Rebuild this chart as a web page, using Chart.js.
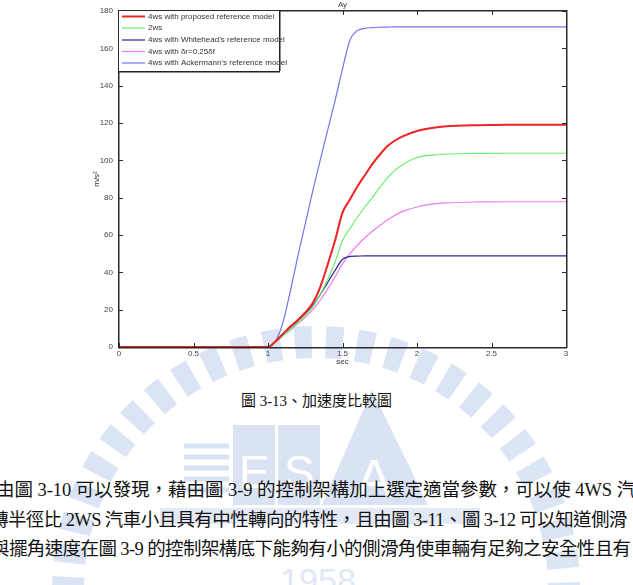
<!DOCTYPE html>
<html>
<head>
<meta charset="utf-8">
<script src="https://cdn.jsdelivr.net/npm/chart.js@4.4.1/dist/chart.umd.min.js"></script>
<style>
    body { margin: 0; width: 633px; height: 585px; overflow: hidden; background: #fff; position: relative; }
    #mark { position: absolute; left: 0; top: 0; }
    #wrap { position: absolute; left: 0; top: 0; width: 633px; height: 372px; }
    .txt { position: absolute; white-space: nowrap; color: #111;
           font-family: "Liberation Serif", "Noto Sans CJK TC", serif; }
    #caption { left: 0; width: 633px; text-align: center; top: 389px; font-size: 15px; }
    .line { font-size: 18.5px; }
</style>
</head>
<body>
<svg id="mark" width="633" height="585">
    <g opacity="0.5">
        <circle cx="316" cy="590" r="248" fill="none" stroke="#b9cbea" stroke-width="32" stroke-dasharray="17 14"/>
        <g stroke="#b7c8e8" stroke-width="5">
            <line x1="184" y1="446" x2="229" y2="446"/><line x1="184" y1="457" x2="229" y2="457"/>
            <line x1="184" y1="468" x2="229" y2="468"/><line x1="184" y1="479" x2="229" y2="479"/>
            <line x1="184" y1="490" x2="229" y2="490"/>
        </g>
        <rect x="233" y="425" width="42" height="80" fill="#b7c8e8"/>
        <rect x="278" y="425" width="42" height="80" fill="#b7c8e8"/>
        <text x="254" y="488" font-size="46" font-family="Liberation Sans" fill="#fff" text-anchor="middle">E</text>
        <text x="299" y="488" font-size="46" font-family="Liberation Sans" fill="#fff" text-anchor="middle">S</text>
        <polygon points="322,505 372,390 428,505" fill="#b7c8e8"/>
        <text x="374" y="497" font-size="54" font-family="Liberation Sans" fill="#fff" text-anchor="middle">A</text>
        <rect x="160" y="508" width="320" height="16" fill="#c9d6ef"/>
        <text x="318" y="592" font-size="34" font-family="Liberation Sans" fill="#c3d1ec" text-anchor="middle">1958</text>
    </g>
</svg>
<div id="wrap"><canvas id="chart"></canvas></div>
<div class="txt" id="caption">圖 3-13、加速度比較圖</div>
<div class="txt line" style="top:475px;left:-4px;letter-spacing:-0.05px">由圖 3-10 可以發現，藉由圖 3-9 的控制架構加上選定適當參數，可以使 4WS 汽</div>
<div class="txt line" style="top:505px;left:-10px;letter-spacing:-0.6px">轉半徑比 2WS 汽車小且具有中性轉向的特性，且由圖 3-11、圖 3-12 可以知道側滑</div>
<div class="txt line" style="top:534px;left:-9px;letter-spacing:-0.6px">與擺角速度在圖 3-9 的控制架構底下能夠有小的側滑角使車輛有足夠之安全性且有</div>
<script>
const times = [0, 1.0, 1.05, 1.1, 1.15, 1.2, 1.25, 1.3, 1.35, 1.4, 1.45, 1.5, 1.55, 1.6, 1.65, 1.7, 1.75, 1.8, 1.85, 1.9, 2.0, 2.1, 2.2, 2.4, 2.6, 3.0];

const proposed   = [0, 0, 3, 7, 11, 14.5, 18.5, 23.5, 32, 44, 57, 72, 79, 86, 92, 98, 103, 107.5, 110.5, 112.7, 115.7, 117.3, 118.2, 118.8, 119, 119];
const twoWs      = [0, 0, 2.5, 6, 9.5, 13, 17, 21.5, 28, 36, 45.5, 57, 63.5, 69.5, 75, 80, 85.5, 90.5, 94.5, 97.5, 101.5, 102.8, 103.4, 103.7, 103.8, 103.8];
const whitehead  = [0, 0, 3, 7, 10.5, 14, 18, 22, 28, 34.5, 41, 47, 48.5, 48.7, 48.8, 48.8, 48.8, 48.8, 48.8, 48.8, 48.8, 48.8, 48.8, 48.8, 48.8, 48.8];
const quarterRatio = [0, 0, 2.5, 6, 9, 12.5, 16, 20, 25, 31, 37.5, 44.5, 50, 54.5, 58.5, 62, 65, 68, 70.5, 72.5, 75, 76.5, 77.2, 77.7, 77.8, 77.8];
const ackermann  = [0, 0, 3, 13, 30, 48.5, 66, 83.5, 100, 116, 132, 149, 164.5, 169.5, 170.7, 171.1, 171.3, 171.4, 171.5, 171.5, 171.5, 171.5, 171.5, 171.5, 171.5, 171.5];

const seriesLabels = [
    '4ws with proposed reference model',
    '2ws',
    '4ws with Whitehead\u2019s reference model',
    '4ws with \u03b4r=0.25\u03b4f',
    '4ws with Ackermann\u2019s reference model'
];
const seriesColors = ['#ec2424', '#6ced6c', '#262696', '#ef7cef', '#7474ee'];
const seriesWidths = [2, 1.2, 1.2, 1.2, 1.2];
const seriesValues = [proposed, twoWs, whitehead, quarterRatio, ackermann];

const xTicks = [0, 0.5, 1, 1.5, 2, 2.5, 3];
const yTicks = [0, 20, 40, 60, 80, 100, 120, 140, 160, 180];

const tickFont = { family: 'Liberation Sans', size: 8 };

const datasets = seriesValues.map((vals, i) => ({
    label: seriesLabels[i],
    data: vals.map((v, j) => ({ x: times[j], y: v })),
    borderColor: seriesColors[i],
    borderWidth: seriesWidths[i],
    pointRadius: 0,
    cubicInterpolationMode: 'monotone',
    fill: false
}));

const matlabFrame = {
    id: 'matlabFrame',
    afterDraw(chart) {
        const { ctx, chartArea: a, scales } = chart;
        const xs = scales.x, ys = scales.y;
        const L = Math.round(a.left), R = Math.round(a.right);
        const T = Math.round(a.top), B = Math.round(a.bottom);
        ctx.save();
        // box round the axes
        ctx.fillStyle = '#2a2a2a';
        ctx.fillRect(L - 1, T - 1, R - L + 2, 1.5);
        ctx.fillRect(L - 1, B, R - L + 2, 1.5);
        ctx.fillRect(L - 1, T - 1, 1.5, B - T + 2);
        ctx.fillRect(R, T - 1, 1.5, B - T + 2);
        // inward ticks on all four sides
        xTicks.forEach(t => {
            const px = Math.round(xs.getPixelForValue(t));
            ctx.fillRect(px, B - 4, 1, 4);
            ctx.fillRect(px, T, 1, 4);
        });
        yTicks.forEach(t => {
            const py = Math.round(ys.getPixelForValue(t));
            ctx.fillRect(L, py, 4, 1);
            ctx.fillRect(R - 4, py, 4, 1);
        });

        // labels
        ctx.fillStyle = '#333';
        ctx.font = '8px "Liberation Sans"';
        ctx.textAlign = 'center';
        ctx.textBaseline = 'middle';
        ctx.fillText('Ay', (a.left + a.right) / 2, 5);
        ctx.fillText('sec', (a.left + a.right) / 2, 362);
        ctx.save();
        ctx.translate(97, (a.top + a.bottom) / 2);
        ctx.rotate(-Math.PI / 2);
        ctx.fillText('m/s\u00b2', 0, 0);
        ctx.restore();

        // legend box
        const lx = L, ly = T, lw = 160, lh = 60;
        ctx.fillStyle = '#fff';
        ctx.fillRect(lx, ly, lw, lh);
        ctx.fillStyle = '#222';
        ctx.fillRect(lx + lw, ly - 1, 1.5, lh + 1);
        ctx.fillRect(lx - 1, ly + lh, lw + 2, 1.5);
        const rows = [16.5, 28, 40, 51.5, 63];
        ctx.textAlign = 'left';
        seriesLabels.forEach((lab, i) => {
            const y = rows[i];
            ctx.strokeStyle = seriesColors[i];
            ctx.lineWidth = seriesWidths[i];
            ctx.beginPath();
            ctx.moveTo(lx + 3, y); ctx.lineTo(lx + 26, y);
            ctx.stroke();
            ctx.fillStyle = '#333';
            ctx.fillText(lab, lx + 29, y);
        });
        ctx.restore();
    }
};

new Chart(document.getElementById('chart'), {
    type: 'line',
    data: { datasets },
    options: {
        responsive: true,
        maintainAspectRatio: false,
        animation: false,
        layout: { padding: { left: 0, right: 67, top: 11, bottom: 0 } },
        plugins: { legend: { display: false }, tooltip: { enabled: false } },
        scales: {
            x: {
                type: 'linear', min: 0, max: 3,
                afterBuildTicks: s => { s.ticks = xTicks.map(v => ({ value: v })); },
                afterFit: s => { s.height = 25; },
                ticks: { font: tickFont, color: '#444', padding: 2, maxRotation: 0, callback: v => String(v) },
                grid: { display: false, drawTicks: false },
                border: { display: false }
            },
            y: {
                type: 'linear', min: 0, max: 180,
                afterBuildTicks: s => { s.ticks = yTicks.map(v => ({ value: v })); },
                afterFit: s => { s.width = 119; },
                ticks: { font: tickFont, color: '#444', padding: 6, callback: v => String(v) },
                grid: { display: false, drawTicks: false },
                border: { display: false }
            }
        }
    },
    plugins: [matlabFrame]
});
</script>
</body>
</html>
